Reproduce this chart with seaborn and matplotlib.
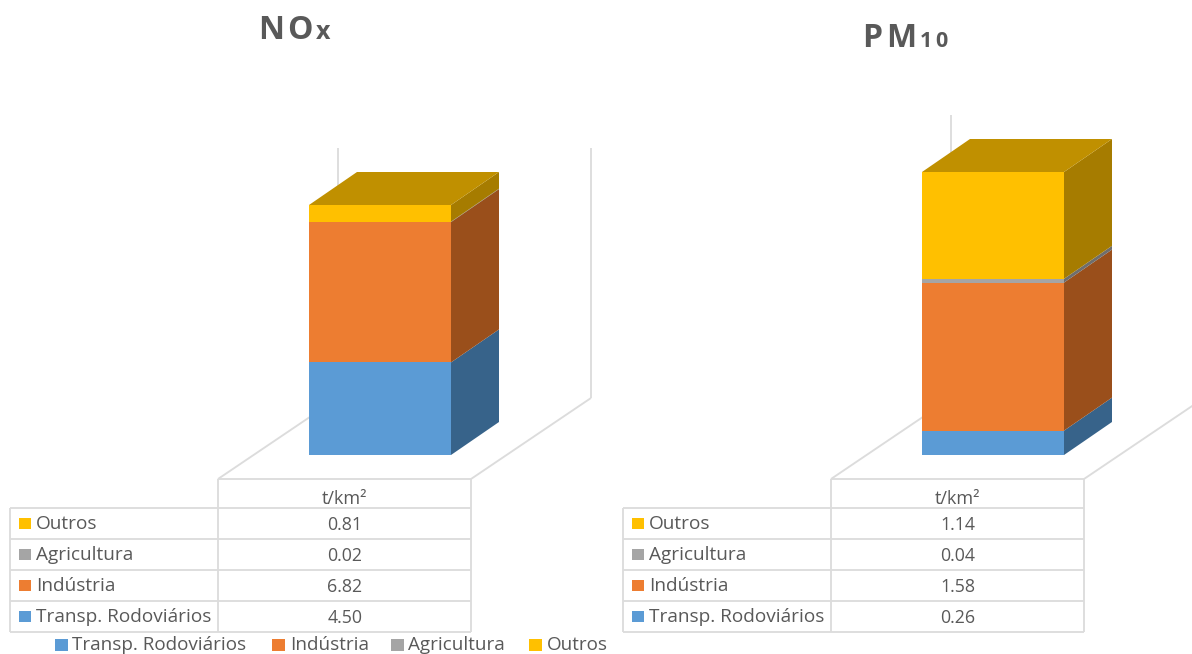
import matplotlib
matplotlib.use("Agg")
import matplotlib.pyplot as plt
from matplotlib.patches import Polygon, Rectangle
import seaborn as sns

sns.set_theme(style="white")
plt.rcParams["font.family"] = ["Open Sans", "DejaVu Sans"]

# Emission densities (t/km²) stacked from bottom to top
sectors = ["Transp. Rodoviários", "Indústria", "Agricultura", "Outros"]
nox_values = [4.50, 6.82, 0.02, 0.81]
pm10_values = [0.26, 1.58, 0.04, 1.14]
unit_label = "t/km²"
front_colors = ["#5B9BD5", "#ED7D31", "#A5A5A5", "#FFC000"]
side_colors = ["#37638A", "#9A4F1B", "#6E6E6E", "#A67C00"]
top_color = "#C09000"
grid_color = "#DCDCDC"
text_color = "#595959"

W, H = 1192, 654
DEPTH_X, DEPTH_Y = 48, 33
BAR_W = 142
BASE_Y = 455
AX_TOP = 60

fig = plt.figure(figsize=(W / 100, H / 100), dpi=100, facecolor="white")
canvas = fig.add_axes([0, 0, 1, 1], zorder=0)
canvas.set_xlim(0, W)
canvas.set_ylim(H, 0)
canvas.axis("off")


def spaced_title(parts, x, baseline):
    """Write a title piece by piece, with tracking, on a common baseline."""
    renderer = fig.canvas.get_renderer()
    for text, size, gap in parts:
        for ch in text:
            t = canvas.text(x, baseline, ch, fontsize=size, fontweight="bold",
                            color=text_color, ha="left", va="baseline")
            bb = t.get_window_extent(renderer)
            x += bb.width + gap


def draw_panel(values, bar_left, bar_height, wall_top, x_shift):
    # Walls and floor of the chart box
    left, col, right = 218 + x_shift, 218 + x_shift, 471 + x_shift
    wall_l, wall_r = 338 + x_shift, 591 + x_shift
    floor_y = 398
    line = dict(color=grid_color, lw=1.35, solid_capstyle="butt")
    canvas.plot([wall_l, wall_l], [wall_top, floor_y], **line)
    canvas.plot([wall_r, wall_r], [wall_top, floor_y], **line)
    canvas.plot([left, wall_l], [479, floor_y], **line)
    canvas.plot([right, wall_r], [479, floor_y], **line)

    # Stacked column in data units, with its depth faces
    ax_left, ax_right = bar_left - 60, bar_left + BAR_W + 90
    ax = fig.add_axes([ax_left / W, 1 - BASE_Y / H, (ax_right - ax_left) / W,
                       (BASE_Y - AX_TOP) / H], zorder=1)
    ax.patch.set_alpha(0)
    total = sum(values)
    per_px = total / bar_height
    bottom = 0.0
    for name, val, front, side in zip(sectors, values, front_colors, side_colors):
        sns.barplot(x=["t/km²"], y=[val], bottom=bottom, color=front, saturation=1,
                    width=1.0, linewidth=0, ax=ax, zorder=3)
        dx, dy = DEPTH_X / BAR_W, DEPTH_Y * per_px
        ax.add_patch(Polygon([(0.5, bottom), (0.5 + dx, bottom + dy),
                              (0.5 + dx, bottom + val + dy), (0.5, bottom + val)],
                             closed=True, facecolor=side, edgecolor="none", zorder=2))
        bottom += val
    ax.add_patch(Polygon([(-0.5, total), (-0.5 + dx, total + dy),
                          (0.5 + dx, total + dy), (0.5, total)],
                         closed=True, facecolor=top_color, edgecolor="none", zorder=2))
    ax.set_xlim((ax_left - bar_left) / BAR_W - 0.5, (ax_right - bar_left) / BAR_W - 0.5)
    ax.set_ylim(0, (BASE_Y - AX_TOP) * per_px)
    ax.axis("off")

    # Data table under the chart
    tl, tc, tr = 10 + x_shift, col, right
    rows_y = [479, 508, 539, 570, 601, 632]
    canvas.plot([tc, tr], [rows_y[0], rows_y[0]], **line)
    canvas.plot([tc, tc], [rows_y[0], rows_y[-1]], **line)
    canvas.plot([tr, tr], [rows_y[0], rows_y[-1]], **line)
    canvas.plot([tl, tl], [rows_y[1], rows_y[-1]], **line)
    for y in rows_y[1:]:
        canvas.plot([tl, tr], [y, y], **line)
    mid = (tc + tr) / 2
    canvas.text(mid, 504, unit_label, fontsize=13, color=text_color,
                ha="center", va="baseline")
    for i, (name, val, front) in enumerate(zip(sectors[::-1], values[::-1], front_colors[::-1])):
        yc = (rows_y[i + 1] + rows_y[i + 2]) / 2
        canvas.add_patch(Rectangle((19 + x_shift, yc - 6), 12, 11, facecolor=front,
                                   edgecolor="none"))
        canvas.text(36 + x_shift, yc + 5.5, name, fontsize=13.7, color=text_color,
                    ha="left", va="baseline")
        canvas.text(mid + 0.5, yc + 6.5, f"{val:.2f}", fontsize=12.8, color=text_color,
                    ha="center", va="baseline")


draw_panel(nox_values, 309, 250, 148, 0)
draw_panel(pm10_values, 922, 283, 115, 613)

# Shared legend running along the lower edge
legend_x = [(55, 72), (272, 290), (391, 408), (529, 547)]
for (mx, tx), name, color in zip(legend_x, sectors, front_colors):
    canvas.add_patch(Rectangle((mx, 639), 13, 12, facecolor=color, edgecolor="none"))
    canvas.text(tx, 650, name, fontsize=13.6, color=text_color, ha="left", va="baseline")

fig.canvas.draw()
spaced_title([("NO", 23, 3), ("x", 18, 0)], 258, 39)
spaced_title([("PM", 23, 4), ("10", 15.5, 3)], 862, 47)

fig.savefig("out.png", dpi=100, facecolor="white")
